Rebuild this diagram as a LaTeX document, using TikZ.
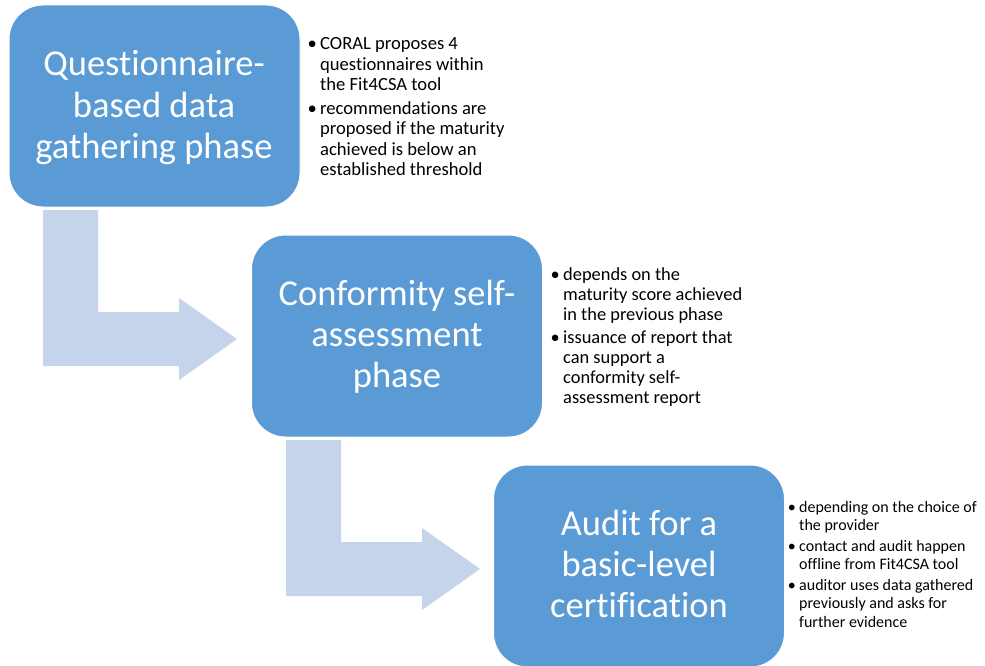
\documentclass[tikz,border=0pt]{standalone}
\usepackage{fontspec}
\setmainfont{Carlito}[Ligatures=NoCommon]
\definecolor{boxblue}{RGB}{91,155,213}
\definecolor{arrowblue}{RGB}{197,212,234}
\newcommand\notebullet{\llap{\textbullet\hspace{3.3pt}}}
\begin{document}
\begin{tikzpicture}[x=1pt,y=-1pt,
  phasebox/.style={draw=white, line width=1pt, fill=boxblue, rounded corners=34pt,
    minimum width=291pt, minimum height=202pt, inner sep=0pt},
  phasetext/.style={text=white, font=\fontsize{36.5}{41}\selectfont, inner sep=0pt, anchor=base},
  notes/.style={text=black, inner sep=0pt, anchor=base west},
  bentarrow/.style={fill=arrowblue, draw=none}]
\useasboundingbox (0,0) rectangle (985,666);
\fill[white] (0,0) rectangle (985,666);

% bent arrows
\path[bentarrow] (43,210) -- (98,210) -- (98,312) -- (179,312) -- (179,298) -- (237,339)
  -- (179,380) -- (179,366) -- (43,366) -- cycle;
\path[bentarrow] (286,440) -- (341,440) -- (341,542) -- (422,542) -- (422,528) -- (480,569)
  -- (422,610) -- (422,596) -- (286,596) -- cycle;

% phase boxes
\node[phasebox] (q) at (154.5,106) {};
\node[phasebox] (c) at (397,336) {};
\node[phasebox] (a) at (639,566) {};

\node[phasetext] (qt) at (154,158) {\begin{tabular}[b]{@{}c@{}}Questionnaire-\\based data\\gathering phase\end{tabular}};
\node[phasetext] (ct) at (397,387) {\begin{tabular}[b]{@{}c@{}}Conformity self-\\assessment\\phase\end{tabular}};
\node[phasetext] (at) at (639,617) {\begin{tabular}[b]{@{}c@{}}Audit for a\\basic-level\\certification\end{tabular}};

% notes
\node[notes, font=\fontsize{18.6}{20.3}\selectfont] (qn) at (320,50) {\begin{tabular}[t]{@{}l@{}}\notebullet CORAL proposes 4\\ questionnaires within\\ the Fit4CSA tool\\[3.7pt]
\notebullet recommendations are\\ proposed if the maturity\\ achieved is below an\\ established threshold\end{tabular}};
\node[notes, font=\fontsize{18.4}{20}\selectfont] (cn) at (563,280) {\begin{tabular}[t]{@{}l@{}}\notebullet depends on the\\ maturity score achieved\\ in the previous phase\\[3pt]
\notebullet issuance of report that\\ can support a\\ conformity self-\\ assessment report\end{tabular}};
\node[notes, font=\fontsize{16}{18.3}\selectfont] (an) at (799,512) {\begin{tabular}[t]{@{}l@{}}\notebullet depending on the choice of\\ the provider\\[2.7pt]
\notebullet contact and audit happen\\ offline from Fit4CSA tool\\[2.7pt]
\notebullet auditor uses data gathered\\ previously and asks for\\ further evidence\end{tabular}};
\end{tikzpicture}
\end{document}
